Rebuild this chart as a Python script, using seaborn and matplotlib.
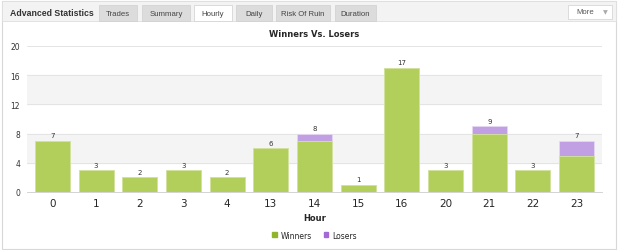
import pandas as pd
import matplotlib.pyplot as plt
import seaborn as sns
from matplotlib.patches import Rectangle, Patch

# Datos
horas = ["0", "1", "2", "3", "4", "13", "14", "15", "16", "20", "21", "22", "23"]
ganadores = [7, 3, 2, 3, 2, 6, 7, 1, 17, 3, 8, 3, 5]
perdedores = [0, 0, 0, 0, 0, 0, 1, 0, 0, 0, 1, 0, 2]
pestanas = ["Trades", "Summary", "Hourly", "Daily", "Risk Of Ruin", "Duration"]

df = pd.DataFrame({"Hour": horas, "Winners": ganadores, "Losers": perdedores})
df["Total"] = df["Winners"] + df["Losers"]

verde = "#b3cf5b"
morado = "#c09fe2"

sns.set_style("white")
fig = plt.figure(figsize=(6.25, 2.51), dpi=100)
W, H = 625, 251

def px(x, y):
    return x / W, 1 - y / H

# Marco y cabecera tipo pestañas
fig.patches.append(Rectangle(px(2, 250), 614 / W, 248 / H, transform=fig.transFigure,
                             facecolor="white", edgecolor="#d8d8d8", lw=0.8, zorder=-2))
fig.patches.append(Rectangle(px(2, 22), 614 / W, 20 / H, transform=fig.transFigure,
                             facecolor="#f3f3f3", edgecolor="#dedede", lw=0.6, zorder=-1))
fig.text(*px(10, 14), "Advanced Statistics", fontsize=6.3, fontweight="bold",
         color="#333333", va="center", family="Liberation Sans")
tabs_x = [(99, 137), (142, 190), (194, 232), (236, 272), (276, 330), (335, 376)]
for nombre, (x0, x1) in zip(pestanas, tabs_x):
    activo = nombre == "Hourly"
    fig.patches.append(Rectangle(px(x0, 22), (x1 - x0) / W, 16 / H, transform=fig.transFigure,
                                 facecolor="white" if activo else "#dcdcdc",
                                 edgecolor="#cfcfcf", lw=0.5, zorder=-1))
    fig.text(*px((x0 + x1) / 2, 14.5), nombre, fontsize=5.6, color="#444444",
             ha="center", va="center", family="Liberation Sans")
fig.patches.append(Rectangle(px(568, 20), 44 / W, 14 / H, transform=fig.transFigure,
                             facecolor="white", edgecolor="#d0d0d0", lw=0.5, zorder=-1))
fig.text(*px(585, 13), "More", fontsize=5.6, color="#555555", ha="center", va="center",
         family="Liberation Sans")
fig.text(*px(605, 13), "▼", fontsize=4.5, color="#aaaaaa", ha="center", va="center")

ax = fig.add_axes([27 / W, 1 - 193 / H, (602 - 27) / W, (193 - 47) / H])
ax.set_zorder(5)
ax.patch.set_alpha(0)
for y0 in [4, 12]:
    ax.axhspan(y0, y0 + 4, color="#f4f4f4", zorder=0)
for y in [4, 8, 12, 16, 20]:
    ax.axhline(y, color="#e4e4e4", lw=0.7, zorder=0.5)

sns.barplot(data=df, x="Hour", y="Total", order=horas, color=morado, width=0.8,
            saturation=1, edgecolor="#e6d8f3", linewidth=0.6, ax=ax, zorder=2)
sns.barplot(data=df, x="Hour", y="Winners", order=horas, color=verde, width=0.8,
            saturation=1, edgecolor="#d4e59c", linewidth=0.6, ax=ax, zorder=3)

for i, t in enumerate(df["Total"]):
    ax.text(i, t + 0.35, str(t), ha="center", va="bottom", fontsize=5, color="#333333")

ax.set_ylim(0, 20)
ax.set_xlim(-0.58, len(horas) - 0.42)
ax.set_yticks([0, 4, 8, 12, 16, 20])
ax.tick_params(axis="y", labelsize=5.5, colors="#333333", length=0, pad=5)
ax.tick_params(axis="x", labelsize=7.5, length=0, pad=4)
ax.set_xlabel("Hour", fontsize=6, fontweight="bold", labelpad=4)
ax.set_ylabel("")
ax.set_title("Winners Vs. Losers", fontsize=6, fontweight="bold", pad=7)
for s in ax.spines.values():
    s.set_visible(False)
ax.spines["bottom"].set_visible(True)
ax.spines["bottom"].set_color("#cccccc")
ax.spines["bottom"].set_linewidth(0.6)

# Leyenda
ax.legend(handles=[Patch(color="#8fb52a", label="Winners"), Patch(color="#a36ad6", label="Losers")],
          loc="center", bbox_to_anchor=(0.5, -0.295), ncol=2, frameon=False, fontsize=5.5,
          handlelength=0.6, handleheight=0.6, columnspacing=1.5, handletextpad=0.5)

plt.savefig("out.png", dpi=100)
